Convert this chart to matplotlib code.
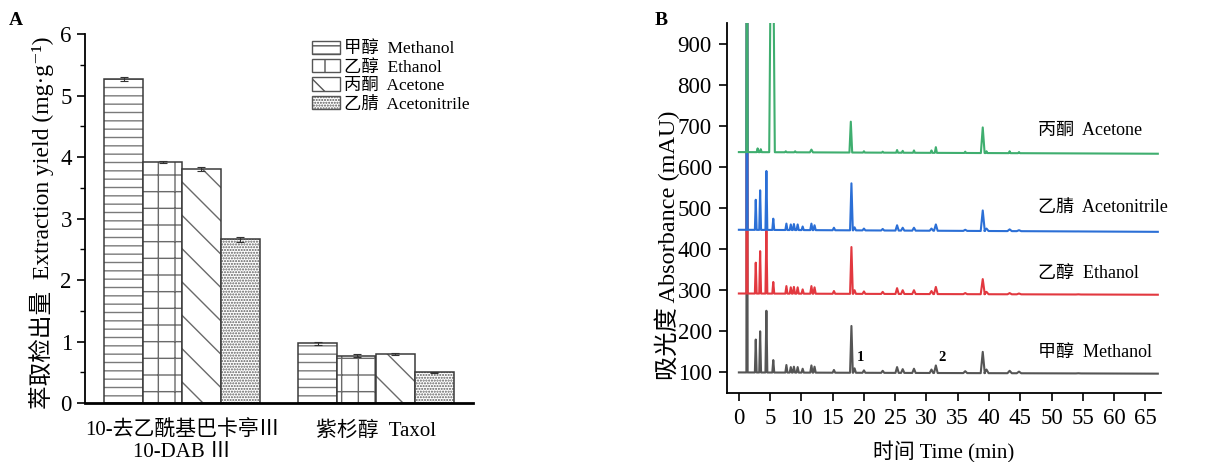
import numpy as np
import matplotlib
matplotlib.use('Agg')
import matplotlib.pyplot as plt
from matplotlib.patches import Patch
from matplotlib.ticker import MultipleLocator

plt.rcParams['font.family'] = ['Liberation Serif', 'Noto Sans CJK SC', 'DejaVu Serif']
plt.rcParams['hatch.linewidth'] = 1.0

# ---- panel A data ----
compounds = ['10-去乙酰基巴卡亭Ⅲ\n10-DAB Ⅲ', '紫杉醇  Taxol']
solvents = ['甲醇  Methanol', '乙醇  Ethanol', '丙酮  Acetone', '乙腈  Acetonitrile']
yield_dab = [5.27, 3.92, 3.80, 2.66]
yield_taxol = [0.97, 0.77, 0.80, 0.50]
err_dab = [0.03, 0.01, 0.03, 0.04]
err_taxol = [0.02, 0.02, 0.02, 0.01]

# ---- panel B data (retention time in min, apex in mAU) ----
methanol_t = [1.3, 2.7, 3.4, 4.4, 5.5, 7.6, 8.3, 8.8, 9.4, 10.2, 11.6, 12.1, 15.2, 18.0, 18.5,
              20.0, 23.0, 25.3, 26.2, 28.0, 30.8, 31.5, 36.2, 39.0, 39.6, 43.3, 44.8, 54.3]
methanol_y = [1500, 180, 200, 250, 130, 118, 113, 114, 113, 109, 117, 114, 106, 213, 110,
              105, 104, 113, 108, 109, 107, 117, 103, 150, 107, 104, 102, 98]
methanol_base = [100, 97]
ethanol_y = [1500, 367, 395, 445, 320, 310, 307, 308, 307, 302, 310, 307, 298, 405, 300,
             297, 296, 305, 300, 300, 298, 308, 293, 327, 296, 293, 292, 290]
ethanol_base = [292, 289]
acetonitrile_y = [1500, 520, 543, 590, 474, 462, 460, 461, 460, 455, 462, 458, 452, 560, 453,
                  450, 449, 458, 452, 452, 450, 460, 447, 494, 450, 448, 446, 443]
acetonitrile_base = [447, 442]
acetone_t = [1.3, 3.0, 3.5, 5.3, 7.5, 9.0, 11.6, 17.9, 20.0, 23.0, 25.3, 26.2, 28.0, 30.8,
             31.5, 36.2, 39.0, 39.6, 43.3, 44.8]
acetone_y = [1500, 645, 643, 1500, 638, 638, 642, 710, 638, 637, 641, 639, 640, 640,
             648, 637, 696, 638, 638, 636]
acetone_w = [0.1, 0.15, 0.15, 0.45, 0.15, 0.15, 0.25, 0.22, 0.15, 0.15, 0.15, 0.15, 0.15, 0.15,
             0.17, 0.15, 0.3, 0.15, 0.15, 0.15]
acetone_base = [636, 632]
run_end = 67


def trace(times, apex, base, widths=None):
    if widths is None:
        widths = [0.1 if a > 1000 else 0.13 + 0.005 * t for t, a in zip(times, apex)]
    foot = lambda t: base[0] + (base[1] - base[0]) * t / run_end
    xs, ys = [0], [base[0]]
    for t, a, w in zip(times, apex, widths):
        xs += [t - w, t, t + w]
        ys += [foot(t - w), a, foot(t + w)]
    xs.append(run_end)
    ys.append(base[1])
    return xs, ys


fig = plt.figure(figsize=(12.2, 4.62), dpi=100)

# ================= Panel A =================
axA = fig.add_axes([0.0697, 0.1277, 0.318, 0.7987])
hatches = ['--', '+', '\\', '......']
hatch_cols = ['#7a7a7a', '#6a6a6a', '#6a6a6a', '#5e5e5e']
w = 0.2
group_x = np.arange(len(compounds))
for i in range(4):
    xs = group_x + (i - 1.5) * w
    vals = [yield_dab[i], yield_taxol[i]]
    errs = [err_dab[i], err_taxol[i]]
    axA.bar(xs, vals, w, color='white', edgecolor=hatch_cols[i], hatch=hatches[i], linewidth=0)
    axA.bar(xs, vals, w, fill=False, edgecolor='#3a3a3a', linewidth=1.1)
    axA.errorbar(xs, vals, yerr=errs, fmt='none', ecolor='#333333', elinewidth=0.8,
                 capsize=3, capthick=0.8)

axA.set_xlim(-0.5, 1.5)
axA.set_ylim(0, 6)
axA.set_xticks(group_x)
axA.set_xticklabels(compounds, fontsize=15, linespacing=1.15)
axA.set_yticks(range(7))
axA.yaxis.set_minor_locator(MultipleLocator(0.5))
axA.tick_params(axis='y', which='major', direction='out', length=6, width=1.2, labelsize=16.5)
axA.tick_params(axis='y', which='minor', direction='out', length=3.5, width=1.0)
axA.tick_params(axis='x', length=0, pad=13)
axA.spines['top'].set_visible(False)
axA.spines['right'].set_visible(False)
axA.spines['left'].set_linewidth(1.3)
axA.spines['bottom'].set_linewidth(2.0)
axA.set_ylabel('萃取检出量  Extraction yield (mg·g⁻¹)', fontsize=17)
axA.yaxis.set_label_coords(-0.08, 0.488)

handles = [Patch(facecolor='white', edgecolor='#555555', hatch=h, linewidth=1.0) for h in hatches]
axA.legend(handles, solvents, loc='upper left', bbox_to_anchor=(0.2557, 0.912),
           bbox_transform=fig.transFigure, frameon=False, fontsize=12.5,
           handlelength=1.6, handleheight=0.8, handletextpad=0.25, labelspacing=0.1,
           borderaxespad=0, borderpad=0)

fig.text(0.007, 0.955, 'A', fontsize=14, fontweight='bold', va='center')

# ================= Panel B =================
axB = fig.add_axes([0.5959, 0.1494, 0.3557, 0.8008])
colors = ['#555555', '#e2383f', '#2b6fd6', '#3fae6f']
series = [
    trace(methanol_t, methanol_y, methanol_base),
    trace(methanol_t, ethanol_y, ethanol_base),
    trace(methanol_t, acetonitrile_y, acetonitrile_base),
    trace(acetone_t, acetone_y, acetone_base, acetone_w),
]
for (xs, ys), c in zip(series, colors):
    axB.plot(xs, ys, color=c, linewidth=1.5)

labels_B = ['甲醇  Methanol', '乙醇  Ethanol', '乙腈  Acetonitrile', '丙酮  Acetone']
label_y = [148, 340, 500, 690]
for lab, ly in zip(labels_B, label_y):
    axB.text(47.8, ly, lab, fontsize=13, va='center', ha='left')

axB.text(19.5, 136, '1', fontsize=10.5, fontweight='bold', ha='center', va='center')
axB.text(32.5, 136, '2', fontsize=10.5, fontweight='bold', ha='center', va='center')

axB.set_xlim(-1.9, 67.5)
axB.set_ylim(50, 950)
axB.set_xticks(range(0, 66, 5))
axB.set_yticks(range(100, 1000, 100))
axB.tick_params(direction='out', length=6, width=1.2, labelsize=16.5, pad=5)
axB.spines['top'].set_visible(False)
axB.spines['right'].set_visible(False)
axB.spines['left'].set_linewidth(1.3)
axB.spines['bottom'].set_linewidth(1.3)
axB.set_xlabel('时间 Time (min)', fontsize=15, labelpad=9)
axB.set_ylabel('吸光度 Absorbance (mAU)', fontsize=17.5)
axB.yaxis.set_label_coords(-0.108, 0.40)

fig.text(0.537, 0.955, 'B', fontsize=14, fontweight='bold', va='center')

fig.savefig('out.png', dpi=100)
